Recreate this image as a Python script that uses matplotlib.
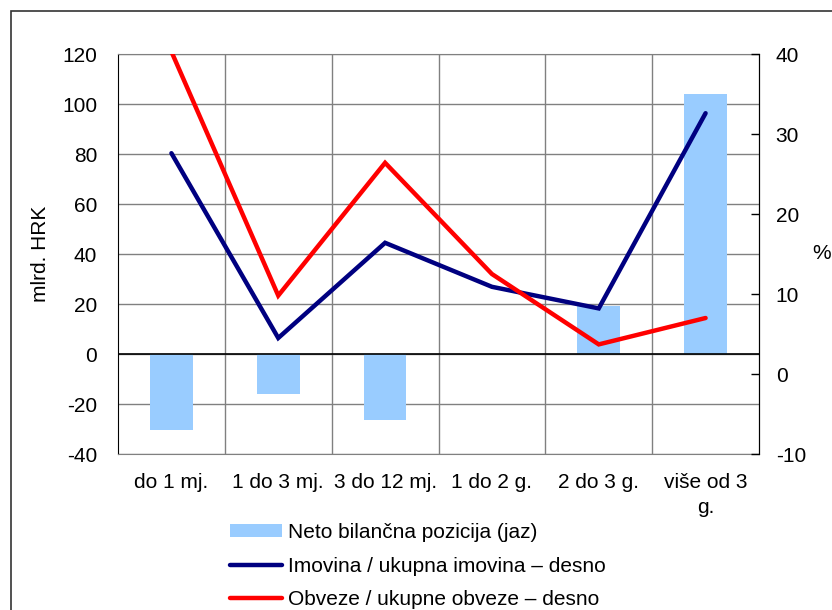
import matplotlib
matplotlib.use("Agg")
import matplotlib.pyplot as plt
from matplotlib.patches import Rectangle
import numpy as np

categories = ["do 1 mj.", "1 do 3 mj.", "3 do 12 mj.", "1 do 2 g.", "2 do 3 g.", "više od 3\ng."]
gap = [-30.5, -16.0, -26.5, 0.0, 19.2, 104.0]
assets = [27.6, 4.5, 16.4, 10.9, 8.2, 32.6]
liabilities = [40.3, 9.8, 26.4, 12.5, 3.7, 7.0]
left_ticks = [-40, -20, 0, 20, 40, 60, 80, 100, 120]
right_ticks = [-10, 0, 10, 20, 30, 40]

plt.rcParams['font.family'] = ['Liberation Sans', 'DejaVu Sans']
FS = 15

W, H = 832, 610
fig = plt.figure(figsize=(W / 100, H / 100), dpi=100)

def fx(px):
    return px / W

def fy(py):
    return 1 - py / H

L, R, T, B = 118, 759, 54, 454
ax = fig.add_axes([fx(L), fy(B), fx(R) - fx(L), fy(T) - fy(B)])

x = np.arange(len(categories))
bars = ax.bar(x, gap, width=0.4, color="#99CCFF", zorder=2, label="Neto bilančna pozicija (jaz)")
ax.set_xlim(-0.5, len(categories) - 0.5)
ax.set_ylim(-40, 120)
ax.set_yticks(left_ticks)
ax.set_yticklabels([str(v) for v in left_ticks], fontsize=FS)
ax.set_xticks(x)
ax.set_xticklabels(categories, fontsize=FS, linespacing=1.4)
ax.set_xticks(np.arange(0.5, len(categories) - 1, 1.0), minor=True)
ax.tick_params(axis='x', which='both', length=0, pad=14)
ax.tick_params(axis='y', length=0, pad=15)
ax.grid(axis='y', which='major', color='#808080', linewidth=1, zorder=0)
ax.grid(axis='x', which='minor', color='#808080', linewidth=1, zorder=0)
ax.set_axisbelow(True)
ax.axhline(0, color='black', linewidth=1.2, zorder=3)
ax.spines['left'].set_color('black')
ax.spines['top'].set_color('#808080')
ax.spines['bottom'].set_color('#808080')
ax.spines['right'].set_color('black')

ax2 = ax.twinx()
ax2.set_ylim(-10, 40)
ax2.set_yticks(right_ticks)
ax2.set_yticklabels([str(v) for v in right_ticks], fontsize=FS)
ax2.tick_params(axis='y', direction='in', length=6, width=1, pad=12, color='black')
l1, = ax2.plot(x, assets, color="#000080", linewidth=3.2, solid_capstyle='round',
               solid_joinstyle='miter', label="Imovina / ukupna imovina – desno")
l2, = ax2.plot(x, liabilities, color="#FF0000", linewidth=3.2, solid_capstyle='round',
               solid_joinstyle='miter', label="Obveze / ukupne obveze – desno")
for s in ['left', 'top', 'bottom']:
    ax2.spines[s].set_visible(False)
ax2.spines['right'].set_color('black')

fig.text(fx(40), fy(254), "mlrd. HRK", rotation=90, ha='center', va='center', fontsize=FS)
fig.text(fx(822), fy(254), "%", ha='center', va='center', fontsize=FS)

leg = fig.legend([bars, l1, l2],
                 ["Neto bilančna pozicija (jaz)", "Imovina / ukupna imovina – desno",
                  "Obveze / ukupne obveze – desno"],
                 loc='upper left', bbox_to_anchor=(fx(230), fy(523)), frameon=False,
                 fontsize=FS, handlelength=2.5, handleheight=0.55, handletextpad=0.3,
                 labelspacing=0.7, borderpad=0, borderaxespad=0)

fig.patches.append(Rectangle((fx(11), fy(H + 20)), fx(W + 20), fy(11) - fy(H + 20),
                             transform=fig.transFigure, fill=False,
                             edgecolor='#333333', linewidth=1.2))

fig.savefig("out.png", dpi=100)
